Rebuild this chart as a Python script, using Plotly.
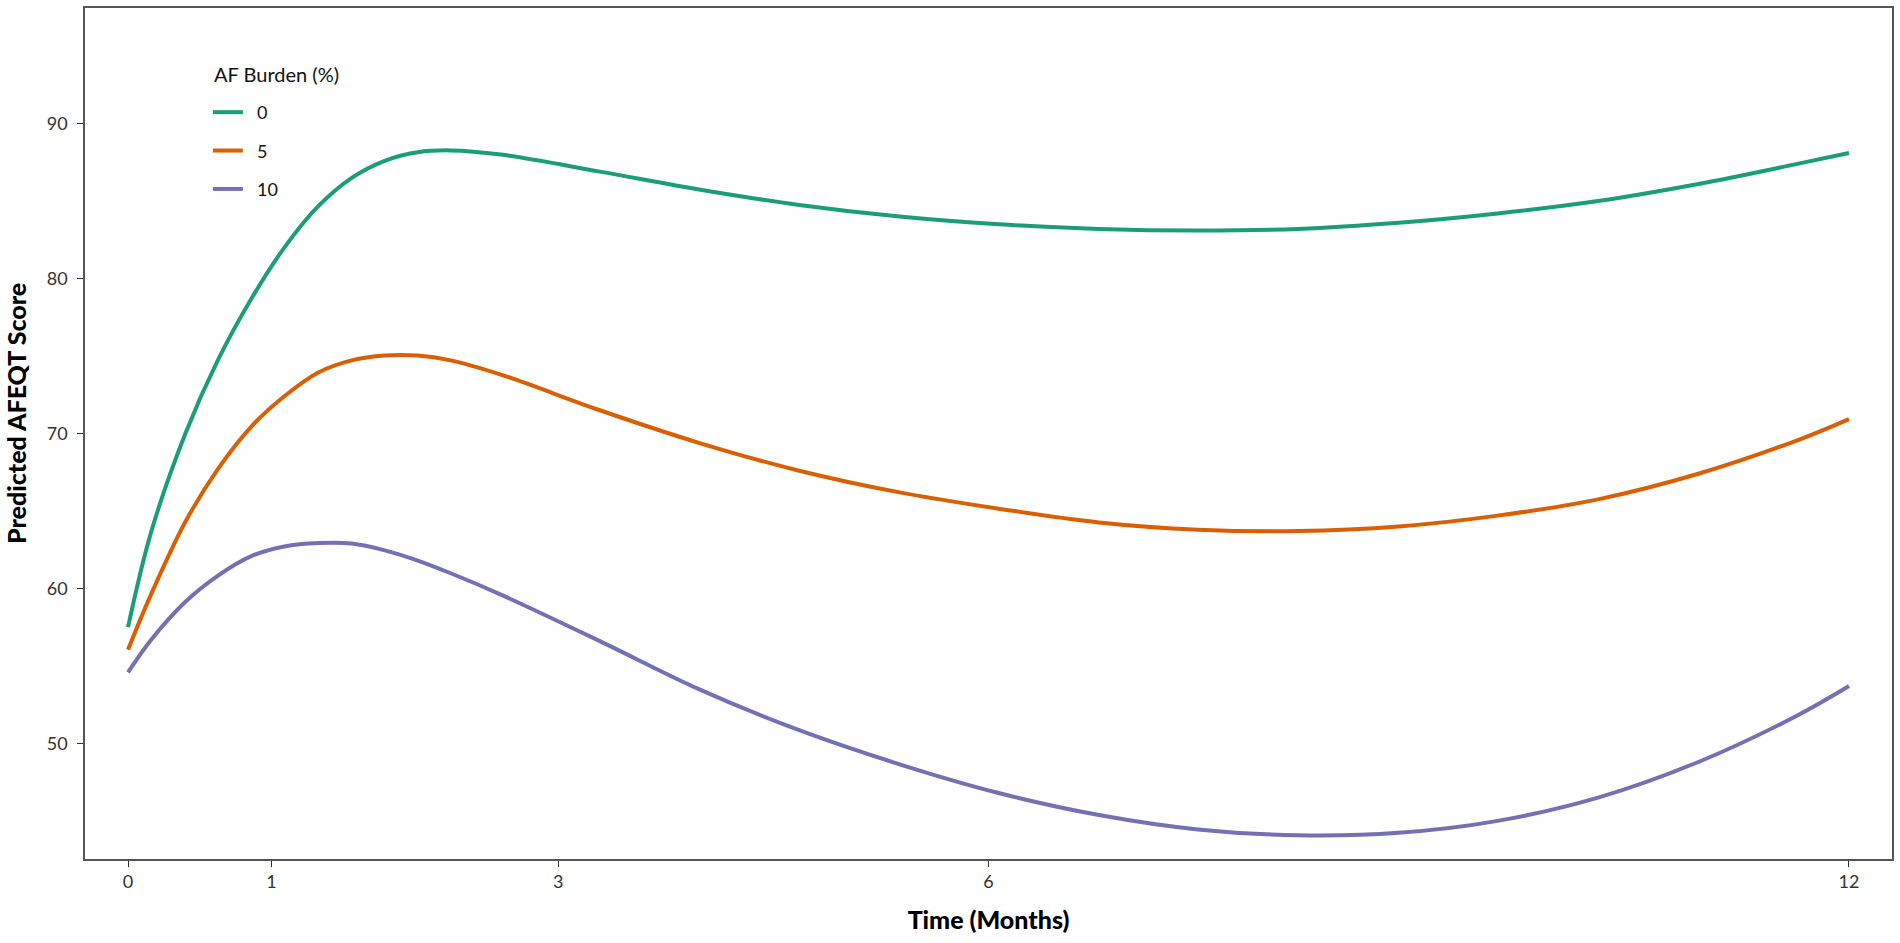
import plotly.graph_objects as go

# ---- data ----
months = [0, 0.16, 0.4, 0.63, 0.86, 1.09, 1.33, 1.56, 1.79, 2.02, 2.25, 2.6,
          3.29, 3.98, 4.68, 5.38, 6.07, 6.77, 7.46, 8.16, 8.86, 9.55,
          10.25, 10.95, 11.64, 12]

af0 = [57.5, 63.6, 70.0, 74.8, 78.7, 82.0, 84.7, 86.5, 87.6, 88.15, 88.27, 88.0,
       86.9, 85.75, 84.75, 84.0, 83.5, 83.2, 83.1, 83.2, 83.6, 84.2,
       85.0, 86.1, 87.4, 88.1]

af5 = [56.05, 59.6, 64.3, 67.75, 70.45, 72.4, 73.95, 74.72, 75.03, 75.03, 74.72, 73.8,
       71.5, 69.4, 67.6, 66.2, 65.15, 64.26, 63.79, 63.7, 64.0, 64.7,
       65.75, 67.4, 69.56, 70.93]

af10 = [54.58, 56.67, 59.14, 60.85, 62.09, 62.71, 62.93, 62.9, 62.46, 61.8, 60.98, 59.6,
        56.6, 53.5, 50.85, 48.65, 46.8, 45.38, 44.45, 44.07, 44.23, 45.0,
        46.5, 48.8, 51.8, 53.7]

series_labels = ["0", "5", "10"]
series_values = [af0, af5, af10]
colors = ["#1B9E77", "#D95F02", "#7570B3"]

legend_title = "AF Burden (%)"
x_title = "Time (Months)"
y_title = "Predicted AFEQT Score"
x_ticks = [0, 1, 3, 6, 12]
y_ticks = [50, 60, 70, 80, 90]

FONT = "Lato, 'Open Sans', sans-serif"

fig = go.Figure()
for lab, vals, col in zip(series_labels, series_values, colors):
    fig.add_trace(go.Scatter(
        x=months, y=vals, mode="lines", name="\u00a0\u00a0" + lab,
        legendgroup=lab,
        line=dict(color=col, width=4, shape="spline", smoothing=1.0),
    ))

axis_common = dict(
    showgrid=False, zeroline=False, showline=True, mirror=True,
    linecolor="#555555", linewidth=1.5,
    ticks="outside", ticklen=6, tickwidth=1.2, tickcolor="#333333",
    tickfont=dict(family=FONT, size=18, color="#333333"),
)

fig.update_layout(
    width=1900, height=943,
    margin=dict(l=85, r=6, t=6, b=84),
    paper_bgcolor="white", plot_bgcolor="white",
    font=dict(family=FONT, color="#222222"),
    showlegend=True,
    legend=dict(
        font=dict(family=FONT, size=18, color="#111111"),
        x=0.068, y=0.899, xanchor="left", yanchor="top",
        bgcolor="rgba(0,0,0,0)", tracegroupgap=12,
    ),
    xaxis=dict(
        range=[-0.3, 12.3], tickvals=x_ticks, ticktext=[str(v) for v in x_ticks],
        title=dict(text=x_title, standoff=20,
                   font=dict(family=FONT, size=25, color="#000000", weight=900)),
        **axis_common,
    ),
    yaxis=dict(
        range=[42.54, 97.46], tickvals=y_ticks, ticktext=[str(v) for v in y_ticks],
        ticklabelstandoff=6,
        **axis_common,
    ),
    annotations=[
        dict(text=legend_title, xref="paper", yref="paper", x=0.0702, y=0.9223,
             xanchor="left", yanchor="middle", showarrow=False,
             font=dict(family=FONT, size=20, color="#111111")),
        dict(text=y_title, xref="paper", yref="paper", x=-0.0382, y=0.524,
             xanchor="center", yanchor="middle", textangle=-90, showarrow=False,
             font=dict(family=FONT, size=25, color="#000000", weight=900)),
    ],
)

fig.write_html("out.html", config={"displayModeBar": False},
               post_script="document.body.style.margin='0';")
